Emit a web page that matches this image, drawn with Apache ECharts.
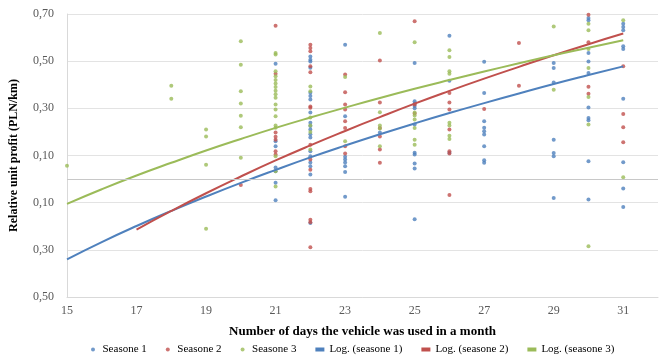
<!DOCTYPE html>
<html><head><meta charset="utf-8">
<script src="https://cdn.jsdelivr.net/npm/echarts@6/dist/echarts.min.js"></script>
<style>html,body{margin:0;padding:0;background:#fff}#c{width:672px;height:363px}</style>
</head><body><div id="c"></div>
<script>
var seriesNames = ['Seasone 1','Seasone 2','Seasone 3','Log. (seasone 1)','Log. (seasone 2)','Log. (seasone 3)'];
var xTicks = [15,17,19,21,23,25,27,29,31];
var yTicks = [-0.5,-0.3,-0.1,0.1,0.3,0.5,0.7];

// [day, relative unit profit]
var season1 = [
 [21,0.489],[21,0.160],[21,0.139],[21,0.049],[21,0.033],[21,-0.016],[21,-0.090],
 [22,0.520],[22,0.506],[22,0.499],[22,0.472],[22,0.366],[22,0.352],[22,0.337],[22,0.282],[22,0.239],[22,0.225],[22,0.210],[22,0.190],[22,0.176],[22,0.118],[22,0.097],[22,0.070],[22,0.054],[22,0.019],[22,-0.186],
 [23,0.570],[23,0.266],[23,0.095],[23,0.083],[23,0.070],[23,0.054],[23,0.030],[23,-0.075],
 [24,0.197],
 [25,0.492],[25,0.330],[25,0.320],[25,0.310],[25,0.300],[25,0.231],[25,0.112],[25,0.104],[25,0.066],[25,0.045],[25,-0.170],
 [26,0.608],[26,0.417],[26,0.112],
 [27,0.497],[27,0.365],[27,0.245],[27,0.218],[27,0.203],[27,0.189],[27,0.139],[27,0.080],[27,0.069],
 [29,0.492],[29,0.471],[29,0.410],[29,0.167],[29,0.111],[29,0.097],[29,-0.080],
 [30,0.683],[30,0.673],[30,0.535],[30,0.499],[30,0.450],[30,0.304],[30,0.259],[30,0.249],[30,0.076],[30,-0.087],
 [31,0.659],[31,0.645],[31,0.631],[31,0.563],[31,0.552],[31,0.341],[31,0.071],[31,-0.040],[31,-0.118]
];
var season2 = [
 [20,-0.025],
 [21,0.650],[21,0.447],[21,0.197],[21,0.180],[21,0.167],[21,0.118],[21,0.104],
 [22,0.570],[22,0.556],[22,0.542],[22,0.478],[22,0.453],[22,0.308],[22,0.302],[22,0.146],[22,0.083],[22,0.040],[22,-0.042],[22,-0.052],[22,-0.172],[22,-0.183],[22,-0.289],
 [23,0.443],[23,0.368],[23,0.316],[23,0.295],[23,0.245],[23,0.217],[23,0.139],[23,0.108],
 [24,0.503],[24,0.325],[24,0.217],[24,0.181],[24,0.125],[24,0.069],
 [25,0.669],[25,0.316],[25,0.278],
 [26,0.365],[26,0.325],[26,0.295],[26,0.210],[26,0.118],[26,0.108],[26,-0.068],
 [27,0.297],
 [28,0.577],[28,0.396],
 [30,0.697],[30,0.580],[30,0.391],[30,0.362],
 [31,0.478],[31,0.276],[31,0.220],[31,0.156]
];
var season3 = [
 [15,0.057],
 [18,0.396],[18,0.341],
 [19,0.210],[19,0.181],[19,0.061],[19,-0.211],
 [20,0.584],[20,0.485],[20,0.372],[20,0.320],[20,0.269],[20,0.220],[20,0.090],
 [21,0.535],[21,0.528],[21,0.457],[21,0.436],[21,0.420],[21,0.405],[21,0.390],[21,0.375],[21,0.360],[21,0.345],[21,0.316],[21,0.295],[21,0.266],[21,0.227],[21,0.218],[21,0.097],[21,0.033],[21,-0.031],
 [22,0.393],[22,0.372],[22,0.261],[22,0.227],[22,0.200],[22,0.125],
 [23,0.433],[23,0.160],
 [24,0.619],[24,0.283],[24,0.227],[24,0.214],[24,0.139],
 [25,0.580],[25,0.282],[25,0.270],[25,0.253],[25,0.217],[25,0.167],[25,0.146],
 [26,0.546],[26,0.518],[26,0.457],[26,0.447],[26,0.239],[26,0.227],[26,0.184],[26,0.170],
 [29,0.647],[29,0.379],
 [30,0.659],[30,0.631],[30,0.552],[30,0.471],[30,0.348],[30,0.231],[30,-0.285],
 [31,0.673],[31,0.008]
];

// Logarithmic trend lines, one value per day
var trendDays1 = [15,16,17,18,19,20,21,22,23,24,25,26,27,28,29,30,31];
var trendVals1 = [-0.340,-0.267,-0.199,-0.135,-0.074,-0.016,0.039,0.092,0.142,0.190,0.236,0.280,0.322,0.363,0.403,0.441,0.478];
var trendDays2 = [17,18,19,20,21,22,23,24,25,26,27,28,29,30,31];
var trendVals2 = [-0.214,-0.135,-0.060,0.011,0.079,0.143,0.204,0.263,0.320,0.374,0.426,0.476,0.525,0.572,0.617];
var trendDays3 = [15,16,17,18,19,20,21,22,23,24,25,26,27,28,29,30,31];
var trendVals3 = [-0.105,-0.043,0.015,0.069,0.121,0.170,0.217,0.261,0.303,0.344,0.383,0.420,0.456,0.491,0.525,0.557,0.589];

var colors = ['#4F81BD','#C0504D','#9BBB59'];
function zip(a,b){return a.map(function(v,i){return [v,b[i]];});}
var font = '"Liberation Serif","Times New Roman",serif';

var chart = echarts.init(document.getElementById('c'), null, {renderer:'canvas'});
chart.setOption({
  animation:false,
  textStyle:{fontFamily:font},
  grid:{left:67,right:14,top:14,bottom:66,containLabel:false},
  legend:{
    bottom:3,left:86,itemGap:19,itemWidth:9,itemHeight:4,
    textStyle:{fontFamily:font,fontSize:11,color:'#000'},
    data:[
      {name:seriesNames[0],icon:'circle'},
      {name:seriesNames[1],icon:'circle'},
      {name:seriesNames[2],icon:'circle'},
      {name:seriesNames[3],icon:'rect'},
      {name:seriesNames[4],icon:'rect'},
      {name:seriesNames[5],icon:'rect'}
    ]
  },
  xAxis:{
    type:'value',min:15,max:32,interval:2,
    name:'Number of days the vehicle was used in a month',
    nameLocation:'middle',nameGap:28,
    nameTextStyle:{fontFamily:font,fontSize:13,fontWeight:'bold',color:'#000'},
    axisLine:{show:true,onZero:false,lineStyle:{color:'#d9d9d9'}},
    axisTick:{show:false},
    splitLine:{show:false},
    axisLabel:{fontFamily:font,fontSize:12,color:'#595959',margin:8,showMaxLabel:false,
      formatter:function(v){return xTicks.indexOf(v)>=0?String(v):'';}}
  },
  yAxis:{
    type:'value',min:-0.5,max:0.7,interval:0.2,
    name:'Relative unit profit (PLN/km)',
    nameLocation:'middle',nameGap:47,nameRotate:90,
    nameTextStyle:{fontFamily:font,fontSize:12,fontWeight:'bold',color:'#000'},
    axisLine:{show:true,lineStyle:{color:'#d9d9d9'}},
    axisTick:{show:false},
    splitLine:{show:true,lineStyle:{color:'#e3e3e3',width:1}},
    axisLabel:{fontFamily:font,fontSize:12,color:'#595959',margin:13,
      formatter:function(v){
        var t = yTicks.filter(function(k){return Math.abs(k-v)<1e-6;});
        return t.length? Math.abs(t[0]).toFixed(2).replace('.',',') : '';
      }}
  },
  series:[
    {name:seriesNames[0],type:'scatter',data:season1,symbolSize:4,itemStyle:{color:colors[0]},z:3,
     markLine:{silent:true,symbol:'none',label:{show:false},lineStyle:{color:'#c8c8c8',width:1,type:'solid'},data:[{yAxis:0}]}},
    {name:seriesNames[1],type:'scatter',data:season2,symbolSize:4,itemStyle:{color:colors[1]},z:3},
    {name:seriesNames[2],type:'scatter',data:season3,symbolSize:4,itemStyle:{color:colors[2]},z:3},
    {name:seriesNames[3],type:'line',data:zip(trendDays1,trendVals1),smooth:true,showSymbol:false,symbol:'none',
     lineStyle:{color:colors[0],width:2},itemStyle:{color:colors[0]},z:4},
    {name:seriesNames[4],type:'line',data:zip(trendDays2,trendVals2),smooth:true,showSymbol:false,symbol:'none',
     lineStyle:{color:colors[1],width:2},itemStyle:{color:colors[1]},z:4},
    {name:seriesNames[5],type:'line',data:zip(trendDays3,trendVals3),smooth:true,showSymbol:false,symbol:'none',
     lineStyle:{color:colors[2],width:2},itemStyle:{color:colors[2]},z:4}
  ]
});
</script></body></html>
